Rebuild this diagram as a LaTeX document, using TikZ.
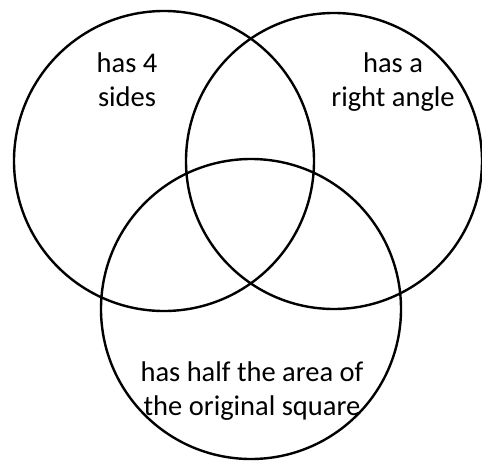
\documentclass[tikz,border=0pt]{standalone}
\usepackage{fontspec}
\setmainfont{Carlito}
\begin{document}
\begin{tikzpicture}[x=1pt,y=-1pt,
  setcircle/.style={circle,draw=black,line width=2.4pt,inner sep=0pt,outer sep=0pt},
  label/.style={align=center,inner sep=0pt,font=\fontsize{28.5}{34}\selectfont}]
\useasboundingbox (0,0) rectangle (482,461);
\node[setcircle,minimum size=300pt] (sides) at (164,161) {};
\node[setcircle,minimum size=296pt] (right) at (334,161) {};
\node[setcircle,minimum size=300pt] (half) at (251,309) {};
\node[label] (tsides) at (127,80) {has 4\\sides};
\node[label] (tright) at (393,82) {has a\\right angle};
\node[label] (thalf) at (252,391) {has half the area of\\the original square};
\end{tikzpicture}
\end{document}
